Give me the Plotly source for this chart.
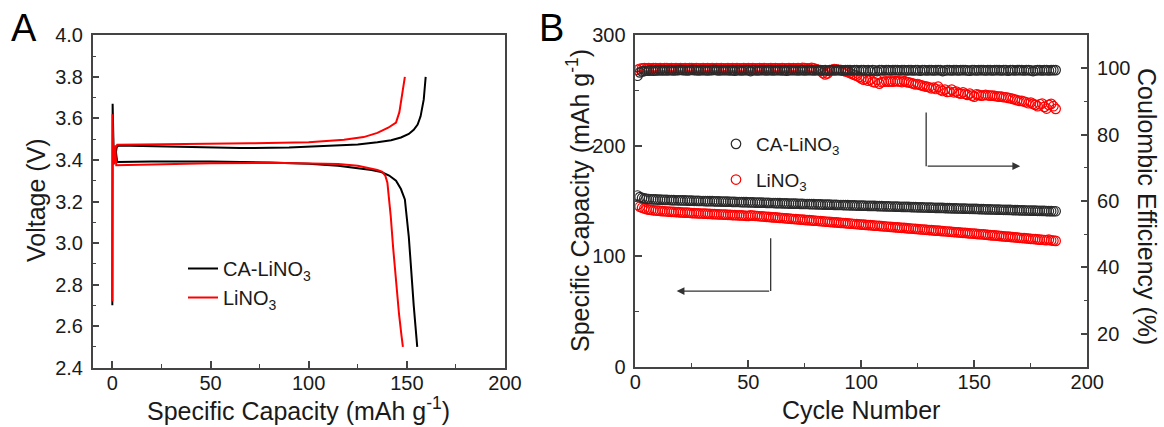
import plotly.graph_objects as go

# ---------------- Panel A: voltage profiles ----------------
ca_charge_x = [0.0, 0.15, 0.8, 1.5, 2.2, 3.0, 15, 35, 65, 90, 110, 125, 135, 142, 147, 151, 153.5, 155.5, 157.0, 157.8, 158.6, 159.1, 159.6]
ca_charge_y = [2.70, 3.67, 3.38, 3.43, 3.46, 3.47, 3.467, 3.463, 3.457, 3.46, 3.466, 3.474, 3.485, 3.495, 3.508, 3.525, 3.545, 3.57, 3.61, 3.645, 3.69, 3.745, 3.80]
ca_dis_x = [1.5, 2.5, 20, 50, 80, 100, 115, 125, 132, 137, 141, 144.5, 147, 149, 150, 151, 152, 152.6, 153.5, 154.4, 155.3]
ca_dis_y = [3.46, 3.39, 3.392, 3.392, 3.388, 3.382, 3.372, 3.362, 3.352, 3.342, 3.325, 3.30, 3.26, 3.21, 3.12, 3.03, 2.90, 2.80, 2.70, 2.60, 2.50]

li_charge_x = [0.0, 0.12, 0.5, 1.0, 1.6, 2.5, 15, 40, 70, 100, 118, 128, 135, 140.5, 144.5, 146.2, 147.6, 148.4, 149.0]
li_charge_y = [2.72, 3.62, 3.44, 3.38, 3.46, 3.473, 3.474, 3.476, 3.48, 3.485, 3.497, 3.51, 3.53, 3.555, 3.58, 3.63, 3.71, 3.76, 3.80]
li_dis_x = [1.4, 2.0, 20, 50, 80, 100, 115, 125, 131, 135, 137.5, 139, 140.1, 141, 141.8, 143, 144.5, 146, 147.2, 148]
li_dis_y = [3.47, 3.375, 3.378, 3.384, 3.386, 3.384, 3.38, 3.372, 3.362, 3.352, 3.343, 3.325, 3.29, 3.22, 3.13, 2.98, 2.80, 2.66, 2.56, 2.50]

# ---------------- Panel B: cycling ----------------
cycles = list(range(1, 187))
ca_capacity = [
    155.0, 153.5, 152.8, 152.3, 152.0, 151.8, 151.6, 151.5, 151.4, 151.3,
    151.2, 151.1, 151.0, 151.0, 150.9, 150.8, 150.8, 150.7, 150.6, 150.6,
    150.5, 150.5, 150.4, 150.3, 150.3, 150.2, 150.2, 150.1, 150.0, 150.0,
    149.9, 149.9, 149.8, 149.8, 149.7, 149.6, 149.6, 149.5, 149.5, 149.4,
    149.4, 149.3, 149.2, 149.2, 149.1, 149.1, 149.0, 148.9, 148.9, 148.8,
    148.8, 148.7, 148.6, 148.6, 148.5, 148.5, 148.4, 148.3, 148.3, 148.2,
    148.2, 148.1, 148.0, 148.0, 147.9, 147.9, 147.8, 147.7, 147.7, 147.6,
    147.6, 147.5, 147.4, 147.4, 147.3, 147.3, 147.2, 147.1, 147.1, 147.0,
    147.0, 146.9, 146.8, 146.8, 146.7, 146.7, 146.6, 146.5, 146.5, 146.4,
    146.4, 146.3, 146.2, 146.2, 146.1, 146.1, 146.0, 145.9, 145.9, 145.8,
    145.8, 145.7, 145.6, 145.6, 145.5, 145.5, 145.4, 145.3, 145.3, 145.2,
    145.2, 145.1, 145.0, 145.0, 144.9, 144.9, 144.8, 144.7, 144.7, 144.6,
    144.6, 144.5, 144.4, 144.4, 144.3, 144.3, 144.2, 144.1, 144.1, 144.0,
    144.0, 143.9, 143.8, 143.8, 143.7, 143.7, 143.6, 143.5, 143.5, 143.4,
    143.4, 143.3, 143.2, 143.2, 143.1, 143.1, 143.0, 142.9, 142.9, 142.8,
    142.8, 142.7, 142.6, 142.6, 142.5, 142.5, 142.4, 142.3, 142.3, 142.2,
    142.2, 142.1, 142.0, 142.0, 141.9, 141.9, 141.8, 141.7, 141.7, 141.6,
    141.6, 141.5, 141.4, 141.4, 141.3, 141.3, 141.2, 141.1, 141.1, 141.0,
    141.0, 140.9, 140.8, 140.8, 140.7, 140.7]
li_capacity = [
    146.5, 144.8, 143.9, 143.2, 142.6, 142.2, 141.9, 141.6, 141.4, 141.2,
    141.0, 140.8, 140.7, 140.5, 140.4, 140.2, 140.1, 140.0, 139.9, 139.7,
    139.6, 139.5, 139.4, 139.3, 139.1, 139.0, 138.9, 138.8, 138.7, 138.6,
    138.5, 138.4, 138.3, 138.2, 138.1, 138.0, 137.9, 137.8, 137.7, 137.6,
    137.5, 137.4, 137.3, 137.2, 137.1, 137.0, 136.9, 136.8, 136.6, 136.5,
    136.9, 136.7, 136.6, 136.4, 136.2, 136.1, 135.9, 135.7, 135.6, 135.4,
    135.2, 135.1, 134.9, 134.7, 134.6, 134.4, 134.2, 134.1, 133.9, 133.7,
    133.6, 133.4, 133.2, 133.1, 132.9, 132.7, 132.6, 132.4, 132.2, 132.1,
    131.9, 131.7, 131.6, 131.4, 131.2, 131.1, 130.9, 130.7, 130.6, 130.4,
    130.2, 130.1, 129.9, 129.7, 129.6, 129.4, 129.2, 129.1, 128.9, 128.7,
    128.6, 128.4, 128.2, 128.1, 127.9, 127.7, 127.6, 127.4, 127.2, 127.1,
    126.9, 126.7, 126.6, 126.4, 126.2, 126.1, 125.9, 125.7, 125.6, 125.4,
    125.2, 125.1, 124.9, 124.7, 124.6, 124.4, 124.2, 124.1, 123.9, 123.7,
    123.6, 123.4, 123.2, 123.1, 122.9, 122.7, 122.6, 122.4, 122.2, 122.1,
    121.9, 121.7, 121.6, 121.4, 121.2, 121.1, 120.9, 120.7, 120.6, 120.4,
    120.2, 120.0, 119.9, 119.7, 119.5, 119.3, 119.1, 118.9, 118.8, 118.6,
    118.4, 118.2, 118.0, 117.8, 117.7, 117.5, 117.3, 117.1, 116.9, 116.7,
    116.5, 116.4, 116.2, 116.0, 115.8, 115.6, 115.4, 115.2, 115.0, 114.9,
    114.7, 114.5, 115.0, 114.3, 114.1, 113.9]
ca_ce = [
    97.8, 98.8, 99.1, 99.2, 99.3, 99.3, 99.4, 99.3, 99.4, 99.4,
    99.5, 99.4, 99.5, 99.4, 99.5, 99.5, 99.4, 99.5, 99.5, 99.6,
    99.5, 99.5, 99.4, 99.5, 99.6, 99.5, 99.5, 99.4, 99.5, 99.5,
    99.5, 99.4, 99.5, 99.5, 99.6, 99.5, 99.4, 99.5, 99.5, 99.5,
    99.5, 99.4, 99.5, 99.3, 99.5, 99.5, 99.4, 99.5, 99.5, 99.5,
    99.2, 99.5, 99.5, 99.4, 99.5, 99.5, 99.5, 99.4, 99.5, 99.5,
    99.4, 99.5, 99.5, 99.5, 99.4, 99.5, 99.3, 99.5, 99.5, 99.5,
    99.5, 99.4, 99.5, 99.5, 99.4, 99.5, 99.5, 99.5, 99.4, 99.5,
    99.5, 99.5, 99.4, 99.5, 99.3, 99.5, 99.5, 99.4, 99.5, 99.5,
    99.5, 99.4, 99.5, 99.5, 99.5, 99.4, 99.5, 99.5, 99.4, 99.5,
    99.5, 99.4, 99.5, 99.3, 99.5, 99.4, 99.2, 99.5, 99.5, 99.4,
    99.5, 99.5, 99.4, 99.5, 99.5, 99.5, 99.4, 99.5, 99.5, 99.4,
    99.5, 99.5, 99.4, 99.5, 99.5, 99.3, 99.5, 99.5, 99.4, 99.5,
    99.5, 99.4, 99.5, 99.5, 99.5, 99.2, 99.4, 99.5, 99.5, 99.4,
    99.5, 99.5, 99.4, 99.5, 99.5, 99.5, 99.4, 99.3, 99.5, 99.5,
    99.4, 99.5, 99.5, 99.5, 99.4, 99.5, 99.5, 99.4, 99.5, 99.5,
    99.5, 99.4, 99.5, 99.5, 99.3, 99.5, 99.5, 99.4, 99.5, 99.5,
    99.5, 99.4, 99.5, 99.5, 99.4, 99.2, 99.4, 99.5, 99.5, 99.4,
    99.5, 99.5, 99.4, 99.5, 99.5, 99.5]
li_ce = [
    99.6, 99.9, 100.0, 100.1, 100.0, 100.1, 100.0, 100.1, 100.1, 100.0,
    100.1, 100.0, 100.1, 100.1, 100.0, 100.1, 100.0, 100.1, 100.0, 100.1,
    100.0, 100.1, 100.0, 100.1, 100.1, 100.0, 100.1, 100.0, 100.0, 100.1,
    100.0, 100.1, 100.0, 100.1, 100.0, 100.1, 100.0, 100.1, 100.0, 100.0,
    100.1, 100.0, 100.1, 100.0, 100.1, 100.0, 100.0, 100.1, 100.0, 100.1,
    100.0, 100.1, 100.0, 100.0, 100.1, 100.0, 100.1, 100.0, 100.0, 100.1,
    100.0, 100.1, 100.0, 100.0, 100.1, 100.0, 100.0, 100.1, 100.0, 100.1,
    100.0, 100.1, 100.0, 100.2, 100.1, 100.0, 100.0, 100.2, 100.0, 99.8,
    99.6, 99.3, 98.6, 98.2, 98.5, 99.3, 99.6, 99.8, 99.7, 99.6,
    99.5, 99.3, 99.1, 98.9, 98.6, 98.3, 98.0, 97.8, 97.4, 97.0,
    96.6, 96.8, 96.3, 96.6, 96.0, 95.8, 96.6, 95.4, 95.9, 96.0,
    96.1, 96.0, 96.1, 96.0, 96.2, 96.1, 96.1, 95.9, 96.2, 95.9,
    95.8, 95.6, 95.4, 95.2, 95.3, 95.0, 94.8, 94.6, 94.5, 94.3,
    94.0, 94.2, 93.8, 94.5, 93.6, 93.2, 93.6, 92.9, 93.0, 93.6,
    92.8, 93.0, 92.6, 92.4, 92.8, 92.3, 92.0, 92.4, 91.8, 91.5,
    92.2, 92.0, 91.8, 91.9, 92.0, 91.9, 91.8, 91.8, 91.7, 91.6,
    91.5, 91.5, 91.3, 91.3, 91.1, 91.0, 90.8, 90.6, 90.4, 90.2,
    90.2, 90.0, 89.8, 89.5, 89.7, 89.3, 89.0, 88.6, 89.2, 89.4,
    88.4, 87.9, 89.0, 89.3, 88.6, 87.8]

# arrow guides (panel B): [x_vertical, y_top, y_bottom, x_head]
arrow_cap = [59.9, 116.2, 68.5, 18.3]   # in capacity axis units
arrow_ce = [128.7, 86.7, 70.5, 170.3]   # in coulombic efficiency units

names = ["CA-LiNO<sub>3</sub>", "LiNO<sub>3</sub>"]
BLACK = "#000000"
RED = "#ff0000"
MK_BLACK = "#2a2a2a"
AXC = "#444444"
TXT = "#1a1a1a"
FONT = "Liberation Sans, Arial, sans-serif"

fig = go.Figure()

# Panel A traces
fig.add_trace(go.Scatter(
    x=ca_charge_x + [None] + ca_dis_x, y=ca_charge_y + [None] + ca_dis_y,
    mode="lines", line=dict(color=BLACK, width=2), name=names[0],
    xaxis="x", yaxis="y", legend="legend", connectgaps=False))
fig.add_trace(go.Scatter(
    x=li_charge_x + [None] + li_dis_x, y=li_charge_y + [None] + li_dis_y,
    mode="lines", line=dict(color=RED, width=2), name=names[1],
    xaxis="x", yaxis="y", legend="legend", connectgaps=False))

# Panel B traces
mk = dict(symbol="circle-open", size=9.5, line=dict(width=1.2))
fig.add_trace(go.Scatter(x=cycles, y=li_capacity, mode="markers",
                         marker=dict(mk, color=RED), name=names[1],
                         xaxis="x2", yaxis="y2", legend="legend2", legendrank=2,
                         legendgroup="b2"))
fig.add_trace(go.Scatter(x=cycles, y=li_ce, mode="markers",
                         marker=dict(mk, color=RED), name=names[1], showlegend=False,
                         xaxis="x2", yaxis="y3", legendgroup="b2"))
fig.add_trace(go.Scatter(x=cycles, y=ca_capacity, mode="markers",
                         marker=dict(mk, color=MK_BLACK), name=names[0],
                         xaxis="x2", yaxis="y2", legend="legend2", legendrank=1,
                         legendgroup="b1"))
fig.add_trace(go.Scatter(x=cycles, y=ca_ce, mode="markers",
                         marker=dict(mk, color=MK_BLACK), name=names[0], showlegend=False,
                         xaxis="x2", yaxis="y3", legendgroup="b1"))

W, H = 1164, 427
def px(xp): return xp / W
def py(yp): return 1 - yp / H

tickfont = dict(family=FONT, size=20, color=TXT)
common = dict(showline=True, linecolor=AXC, linewidth=1.5, ticks="inside",
              ticklen=7, tickwidth=1.5, tickcolor=AXC, showgrid=False, zeroline=False,
              tickfont=tickfont, automargin=False)
minor_common = dict(ticks="inside", ticklen=4, tickcolor=AXC, tickwidth=1.2, showgrid=False)
xstand = dict(ticklabelstandoff=-3)
ystand = dict(ticklabelstandoff=4)

fig.update_layout(
    template="none",
    width=W, height=H,
    margin=dict(l=0, r=0, t=0, b=0, autoexpand=False),
    paper_bgcolor="white", plot_bgcolor="white",
    font=dict(family=FONT, color=TXT),
    xaxis=dict(common, **xstand, domain=[px(92.7), px(505)], range=[-10, 200], dtick=50, tick0=0,
               mirror=True, anchor="y", minor=dict(minor_common, dtick=25, tick0=0)),
    yaxis=dict(common, **ystand, domain=[py(367.7), py(35.3)], range=[2.4, 4.0], dtick=0.2, tick0=2.4,
               tickformat=".1f", mirror=True, anchor="x",
               minor=dict(minor_common, dtick=0.1, tick0=2.4)),
    xaxis2=dict(common, **xstand, domain=[px(635.3), px(1087.3)], range=[0, 200], dtick=50, tick0=0,
                mirror=True, anchor="y2", minor=dict(minor_common, dtick=25, tick0=0)),
    yaxis2=dict(common, **ystand, domain=[py(366.7), py(35.3)], range=[0, 300], dtick=100, tick0=0,
                anchor="x2", side="left", minor=dict(minor_common, dtick=50, tick0=0)),
    yaxis3=dict(common, **ystand, domain=[py(366.7), py(35.3)], range=[10, 110], dtick=20, tick0=0,
                anchor="x2", overlaying="y2", side="right",
                minor=dict(minor_common, dtick=10, tick0=0)),
    legend=dict(x=px(183), y=py(249), xanchor="left", yanchor="top",
                bgcolor="rgba(0,0,0,0)", font=dict(family=FONT, size=20, color=TXT),
                tracegroupgap=4),
    legend2=dict(x=px(716), y=py(125), xanchor="left", yanchor="top",
                 bgcolor="rgba(0,0,0,0)", font=dict(family=FONT, size=19, color=TXT),
                 tracegroupgap=8, traceorder="grouped"),
    showlegend=True,
)

# Axis titles and panel labels
titlefont = dict(family=FONT, size=25, color=TXT)
ann = [
    dict(text="A", x=px(24), y=py(28), font=dict(family=FONT, size=38, color="#000")),
    dict(text="B", x=px(551), y=py(28), font=dict(family=FONT, size=38, color="#000")),
    dict(text="Voltage (V)", x=px(36), y=py(200), textangle=-90, font=titlefont),
    dict(text="Specific Capacity (mAh g<sup>-1</sup>)", x=px(298), y=py(409), font=titlefont),
    dict(text="Specific Capacity (mAh g<sup>-1</sup>)", x=px(578), y=py(201), textangle=-90, font=titlefont),
    dict(text="Cycle Number", x=px(861), y=py(410), font=titlefont),
    dict(text="Coulombic Efficiency (%)", x=px(1147), y=py(206), textangle=90, font=titlefont),
]
for a in ann:
    fig.add_annotation(xref="paper", yref="paper", showarrow=False,
                       xanchor="center", yanchor="middle", **a)

# Arrow guides
fig.add_shape(type="line", xref="x2", yref="y2", x0=arrow_cap[0], x1=arrow_cap[0],
              y0=arrow_cap[1], y1=arrow_cap[2], line=dict(color="#333", width=1.3))
fig.add_annotation(xref="x2", yref="y2", axref="x2", ayref="y2",
                   x=arrow_cap[3], y=arrow_cap[2], ax=arrow_cap[0], ay=arrow_cap[2],
                   showarrow=True, arrowhead=2, arrowsize=1.2, arrowwidth=1.3,
                   arrowcolor="#333", text="")
fig.add_shape(type="line", xref="x2", yref="y3", x0=arrow_ce[0], x1=arrow_ce[0],
              y0=arrow_ce[1], y1=arrow_ce[2], line=dict(color="#333", width=1.3))
fig.add_annotation(xref="x2", yref="y3", axref="x2", ayref="y3",
                   x=arrow_ce[3], y=arrow_ce[2], ax=arrow_ce[0], ay=arrow_ce[2],
                   showarrow=True, arrowhead=2, arrowsize=1.2, arrowwidth=1.3,
                   arrowcolor="#333", text="")

fig.write_html("out.html")
